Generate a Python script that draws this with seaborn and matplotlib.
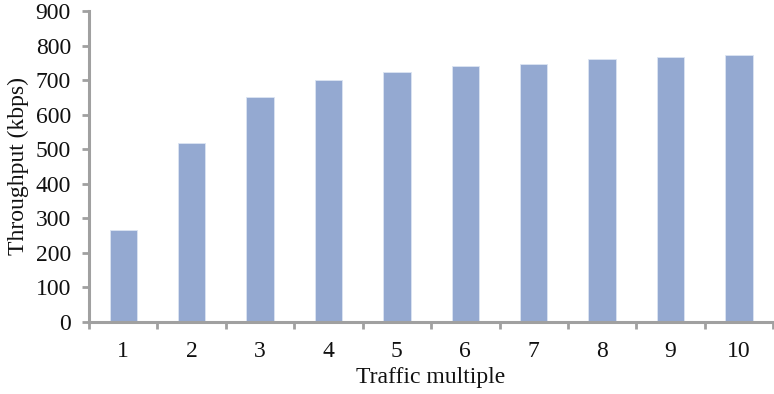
import matplotlib
matplotlib.use("Agg")
import matplotlib.pyplot as plt
import seaborn as sns
import pandas as pd
import numpy as np

sns.set_theme(style="white")
plt.rcParams["font.family"] = ["Liberation Serif", "DejaVu Serif"]

# values
multiples = ["1", "2", "3", "4", "5", "6", "7", "8", "9", "10"]
throughput = [266, 518, 651, 700, 723, 741, 748, 760, 767, 772]

df = pd.DataFrame({"multiple": multiples, "throughput": throughput})

fig = plt.figure(figsize=(7.74, 3.94), dpi=100)
ax = fig.add_axes([0.115, 0.183, 0.884, 0.789])

sns.barplot(data=df, x="multiple", y="throughput", color="#94A9D1",
            saturation=1, width=0.4, edgecolor="#DCE4F2", linewidth=0.6, ax=ax)

axis_grey = "#A0A0A0"
for side in ["top", "right"]:
    ax.spines[side].set_visible(False)
for side in ["left", "bottom"]:
    ax.spines[side].set_color(axis_grey)
    ax.spines[side].set_linewidth(2.2)

fs = 17
ax.set_ylim(0, 900)
ax.set_yticks(range(0, 901, 100))
ax.set_xlim(-0.5, 9.5)
ax.set_xticks(np.arange(-0.5, 10, 1), minor=True)
ax.tick_params(axis="x", which="major", length=0, pad=14, labelsize=fs, labelcolor="#111111")
ax.tick_params(axis="x", which="minor", length=5, width=2, color=axis_grey, direction="out")
ax.tick_params(axis="y", length=5, width=2, color=axis_grey, direction="out",
               labelsize=fs, labelcolor="#111111", pad=8)
ax.tick_params(left=True, bottom=True, which="both")

ax.set_xlabel("Traffic multiple", fontsize=fs, color="#111111", labelpad=3)
ax.set_ylabel("Throughput (kbps)", fontsize=fs, color="#111111", labelpad=5)

fig.savefig("out.png", dpi=100)
